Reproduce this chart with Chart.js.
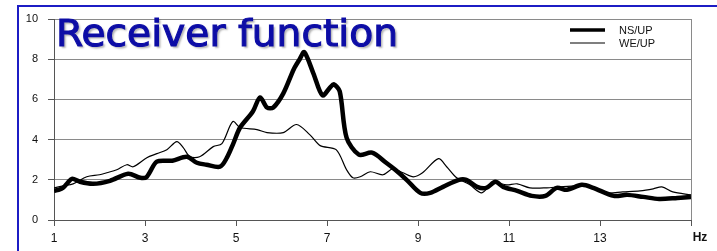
<!DOCTYPE html>
<html>
<head>
<meta charset="utf-8">
<script src="https://cdn.jsdelivr.net/npm/chart.js@4/dist/chart.umd.min.js"></script>
<style>
html,body{margin:0;padding:0;background:#fff;}
#wrap{position:relative;width:717px;height:251px;}
</style>
</head>
<body>
<div id="wrap"><canvas id="c" width="717" height="251"></canvas></div>
<script>
const titleText = "Receiver function";
const seriesNames = ["NS/UP", "WE/UP"];
const xTicks = [1, 3, 5, 7, 9, 11, 13, 15];
const yTicks = [0, 2, 4, 6, 8, 10];
const axisUnit = "Hz";

const freqNS = [1.0,1.1,1.2,1.3,1.4,1.57,1.86,2.23,2.63,2.9,3.04,3.26,3.6,3.92,4.14,4.35,4.65,4.8,4.94,5.09,5.37,5.53,5.68,5.82,6.04,6.27,6.4,6.5,6.7,6.9,7.07,7.15,7.28,7.43,7.7,7.99,8.3,8.5,8.75,9.05,9.27,9.55,9.9,10.06,10.3,10.5,10.7,10.87,11.18,11.5,11.8,12.05,12.27,12.6,12.85,13.3,13.6,13.95,14.3,14.7,15.0];
const valuesNS = [1.45,1.5,1.6,1.85,2.05,1.9,1.8,1.95,2.3,2.1,2.15,2.9,2.95,3.15,2.85,2.75,2.65,3.1,3.8,4.6,5.4,6.1,5.6,5.6,6.3,7.5,8.0,8.35,7.3,6.2,6.6,6.75,6.4,4.1,3.25,3.35,2.85,2.5,2.0,1.35,1.35,1.65,2.0,2.0,1.65,1.6,1.9,1.65,1.45,1.2,1.2,1.6,1.5,1.75,1.6,1.2,1.25,1.15,1.05,1.1,1.15];

const freqWE = [1.0,1.2,1.42,1.72,2.0,2.16,2.38,2.6,2.74,3.04,3.26,3.48,3.7,3.84,3.99,4.2,4.5,4.69,4.93,5.09,5.46,5.68,6.04,6.33,6.62,6.85,7.2,7.43,7.57,7.73,7.95,8.23,8.45,8.67,8.9,9.1,9.45,9.63,9.85,10.14,10.4,10.65,10.95,11.18,11.46,11.83,12.1,12.5,12.78,13.15,13.5,13.88,14.17,14.36,14.6,15.0];
const valuesWE = [1.6,1.7,1.8,2.15,2.25,2.35,2.5,2.75,2.65,3.1,3.3,3.5,3.9,3.6,3.15,3.15,3.65,3.8,4.9,4.6,4.5,4.35,4.35,4.75,4.25,3.7,3.5,2.5,2.1,2.15,2.4,2.25,2.55,2.35,2.15,2.35,3.05,2.65,2.1,1.75,1.35,1.85,1.75,1.8,1.6,1.6,1.65,1.7,1.65,1.35,1.4,1.45,1.55,1.65,1.4,1.25];

const toPts = (xs, ys) => xs.map((x, i) => ({x: x, y: ys[i]}));

const framePlugin = {
  id: 'frame',
  beforeDraw(chart) {
    const ctx = chart.ctx;
    ctx.save();
    ctx.fillStyle = '#fff';
    ctx.fillRect(0, 0, chart.width, chart.height);
    ctx.strokeStyle = '#1c1cc4';
    ctx.lineWidth = 2;
    ctx.beginPath();
    ctx.moveTo(717, 6);
    ctx.lineTo(18, 6);
    ctx.lineTo(18, 251);
    ctx.stroke();
    ctx.restore();
  },
  afterDraw(chart) {
    const ctx = chart.ctx;
    const a = chart.chartArea;
    const xs = chart.scales.x;
    ctx.save();
    // Hz unit label
    ctx.font = 'bold 12px "Liberation Sans", Arial, sans-serif';
    ctx.fillStyle = '#111';
    ctx.textAlign = 'center';
    ctx.textBaseline = 'middle';
    ctx.fillText(axisUnit, xs.getPixelForValue(15) + 9, 238);
    // legend
    ctx.font = '11px "Liberation Sans", Arial, sans-serif';
    ctx.textAlign = 'left';
    chart.data.datasets.forEach((ds, i) => {
      const y = a.top + 11 + i * 13;
      ctx.strokeStyle = '#000';
      ctx.lineWidth = i === 0 ? 3.5 : 1.2;
      ctx.beginPath();
      ctx.moveTo(a.right - 121, y);
      ctx.lineTo(a.right - 86, y);
      ctx.stroke();
      ctx.fillStyle = '#111';
      ctx.fillText(ds.label, a.right - 72, y + 1);
    });
    // title
    ctx.font = '38px "DejaVu Sans", sans-serif';
    const w = ctx.measureText(titleText).width;
    const sx = 342 / w;
    ctx.translate(56, 46);
    ctx.scale(sx, 1);
    ctx.shadowColor = 'rgba(0,0,0,0.3)';
    ctx.shadowOffsetX = 2;
    ctx.shadowOffsetY = 2;
    ctx.shadowBlur = 2;
    ctx.fillStyle = '#0d0da6';
    ctx.strokeStyle = '#0d0da6';
    ctx.lineWidth = 1.1;
    ctx.textBaseline = 'alphabetic';
    ctx.fillText(titleText, 0, 0);
    ctx.shadowColor = 'rgba(0,0,0,0)';
    ctx.strokeText(titleText, 0, 0);
    ctx.restore();
  }
};

new Chart(document.getElementById('c'), {
  type: 'line',
  data: {
    datasets: [
      {label: seriesNames[0], data: toPts(freqNS, valuesNS), borderColor: '#000', borderWidth: 4.5, pointRadius: 0, tension: 0.3, fill: false},
      {label: seriesNames[1], data: toPts(freqWE, valuesWE), borderColor: '#000', borderWidth: 1.2, pointRadius: 0, tension: 0.3, fill: false}
    ]
  },
  options: {
    responsive: false,
    animation: false,
    devicePixelRatio: 1,
    layout: {padding: {left: 0, top: 19, right: 26, bottom: 0}},
    plugins: {legend: {display: false}, tooltip: {enabled: false}, title: {display: false}},
    scales: {
      x: {
        type: 'linear', min: 1, max: 15,
        afterBuildTicks: s => { s.ticks = xTicks.map(v => ({value: v})); },
        afterFit: s => { s.height = 31; },
        grid: {
          color: c => (c.tick && c.tick.value === 15) ? '#8a8a8a' : 'rgba(0,0,0,0)',
          tickColor: '#555', tickLength: 6, lineWidth: 1
        },
        border: {display: true, color: '#555', width: 1},
        ticks: {
          autoSkip: false, maxRotation: 0, padding: 5,
          color: '#111', font: {family: '"Liberation Sans", Arial, sans-serif', size: 12},
          callback: v => v === 15 ? '' : String(v)
        }
      },
      y: {
        min: 0, max: 10,
        afterBuildTicks: s => { s.ticks = yTicks.map(v => ({value: v})); },
        afterFit: s => { s.width = 54; },
        grid: {color: '#8a8a8a', tickColor: '#555', tickLength: 6, lineWidth: 1},
        border: {display: true, color: '#555', width: 1},
        ticks: {
          padding: 10, color: '#111',
          font: {family: '"Liberation Sans", Arial, sans-serif', size: 11},
          callback: v => String(v)
        }
      }
    }
  },
  plugins: [framePlugin]
});
</script>
</body>
</html>
